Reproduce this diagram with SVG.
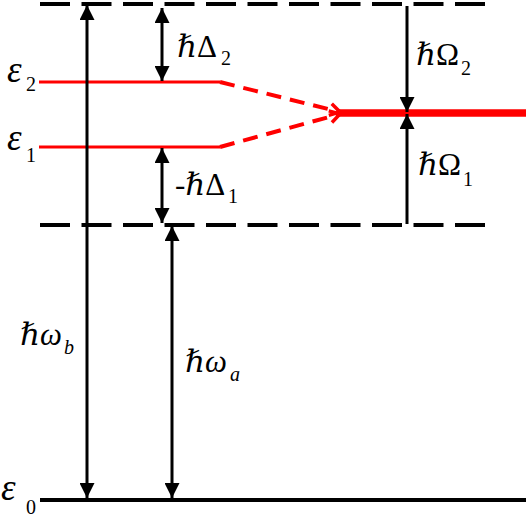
<svg xmlns="http://www.w3.org/2000/svg" width="526" height="517" viewBox="0 0 526 517">
<style>
.lvl{stroke:#000;stroke-width:4;fill:none}
.dash{stroke-dasharray:30 11.5}
.red{stroke:#ff0000;fill:none}
.arr{stroke:#000;stroke-width:3;fill:none}
.t{font-family:"Liberation Serif","Times New Roman","DejaVu Serif",serif;font-size:31px;fill:#000}
.i{font-style:italic}
.e{font-size:37px}
.s{font-size:20px}
</style>
<defs>
<marker id="ah" markerUnits="userSpaceOnUse" markerWidth="15" markerHeight="15" refX="15" refY="7.5" orient="auto-start-reverse" viewBox="0 0 15 15">
<path d="M0,0 L15,7.5 L0,15 z" fill="#000"/>
</marker>
<marker id="rh" markerUnits="userSpaceOnUse" markerWidth="16" markerHeight="16" refX="12" refY="8" orient="auto" viewBox="0 0 16 16">
<path d="M2,2 L12,8 L2,14" fill="none" stroke="#ff0000" stroke-width="3.5"/>
</marker>
</defs>
<g id="levels">
<g id="top-level"><line class="lvl dash" x1="40" y1="4" x2="490" y2="4"/></g>
<g id="mid-level"><line class="lvl dash" x1="40" y1="225" x2="490" y2="225"/></g>
<g id="ground-level"><line class="lvl" x1="40" y1="500" x2="526" y2="500"/></g>
<g id="eps2-level"><line class="red" stroke-width="3" x1="39" y1="82" x2="220" y2="82"/></g>
<g id="eps1-level"><line class="red" stroke-width="3" x1="39" y1="147" x2="220" y2="147"/></g>
<g id="mixed-level"><line class="red" stroke-width="7.5" x1="338" y1="113" x2="526" y2="113"/></g>
</g>
<g id="connectors">
<path class="red" stroke-width="4" stroke-dasharray="15 9" d="M220,82 L340,112" marker-end="url(#rh)"/>
<path class="red" stroke-width="4" stroke-dasharray="15 9" d="M220,147 L340,114" marker-end="url(#rh)"/>
<line class="arr" stroke-width="3.5" x1="87" y1="5" x2="87" y2="498" marker-start="url(#ah)" marker-end="url(#ah)"/>
<line class="arr" stroke-width="2.5" x1="172" y1="226" x2="172" y2="498" marker-start="url(#ah)" marker-end="url(#ah)"/>
<line class="arr" x1="162" y1="8" x2="162" y2="81" marker-start="url(#ah)" marker-end="url(#ah)"/>
<line class="arr" x1="162" y1="148" x2="162" y2="223" marker-start="url(#ah)" marker-end="url(#ah)"/>
<line class="arr" x1="407" y1="6" x2="407" y2="112" marker-end="url(#ah)"/>
<line class="arr" x1="407" y1="224" x2="407" y2="114" marker-end="url(#ah)"/>
</g>
<g id="labels">
<g id="label-eps2"><text class="t"><tspan class="i e" x="7" y="82">ε</tspan><tspan class="s" x="26" y="91">2</tspan></text></g>
<g id="label-eps1"><text class="t"><tspan class="i e" x="7" y="150">ε</tspan><tspan class="s" x="26" y="162">1</tspan></text></g>
<g id="label-eps0"><text class="t"><tspan class="i e" x="1" y="500">ε</tspan><tspan class="s" x="26" y="514">0</tspan></text></g>
<g id="label-d2"><text class="t"><tspan class="i" x="177" y="57">ℏ</tspan><tspan>Δ</tspan><tspan class="s" x="221" y="65">2</tspan></text></g>
<g id="label-d1"><text class="t"><tspan x="175" y="195">-</tspan><tspan class="i">ℏ</tspan><tspan>Δ</tspan><tspan class="s" x="228" y="203">1</tspan></text></g>
<g id="label-o2"><text class="t"><tspan class="i" x="416" y="65">ℏ</tspan><tspan>Ω</tspan><tspan class="s" x="461" y="75">2</tspan></text></g>
<g id="label-o1"><text class="t"><tspan class="i" x="418" y="175">ℏ</tspan><tspan>Ω</tspan><tspan class="s" x="463" y="186">1</tspan></text></g>
<g id="label-wb"><text class="t"><tspan class="i" x="20" y="345">ℏω</tspan><tspan class="s i" x="64" y="354">b</tspan></text></g>
<g id="label-wa"><text class="t"><tspan class="i" x="185" y="372">ℏω</tspan><tspan class="s i" x="230" y="381">a</tspan></text></g>
</g>
</svg>
